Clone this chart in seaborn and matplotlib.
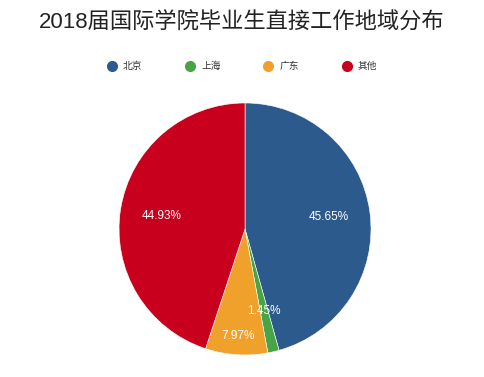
import numpy as np
import matplotlib
matplotlib.use('Agg')
import matplotlib.pyplot as plt
from matplotlib.lines import Line2D
import seaborn as sns

regions = ['北京', '上海', '广东', '其他']
shares = [45.65, 1.45, 7.97, 44.93]
colors = ['#2c5a8c', '#47a447', '#f0a12c', '#c8001e']
title = '2018届国际学院毕业生直接工作地域分布'

sns.set_theme(style='white')
plt.rcParams['font.family'] = ['Liberation Sans', 'Noto Sans CJK SC']

fig = plt.figure(figsize=(4.84, 3.77), dpi=100)
ax = fig.add_axes([0.2459, 0.0584, 0.5207, 0.6684])

wedges, texts, autotexts = ax.pie(
    shares, colors=colors, startangle=90, counterclock=False,
    autopct=lambda p: f'{p:.2f}%', pctdistance=0.67,
    wedgeprops=dict(edgecolor='white', linewidth=0.4),
    textprops=dict(color='white', fontsize=8.5))
ax.set_xlim(-1, 1)
ax.set_ylim(-1, 1)
ax.set_aspect('equal')

# push the small 广东 label outward so it clears the 上海 label
w = wedges[2]
mid = np.deg2rad((w.theta1 + w.theta2) / 2)
autotexts[2].set_position((0.85 * np.cos(mid), 0.85 * np.sin(mid)))

fig.text(0.5, 1 - 23 / 377, title, ha='center', va='center',
         fontsize=16, color='#222222')

handles = [Line2D([], [], marker='o', linestyle='none', markersize=7,
                  markerfacecolor=c, markeredgecolor=c) for c in colors]
fig.legend(handles, regions, loc='center', bbox_to_anchor=(0.5, 1 - 66 / 377),
           ncol=4, frameon=False, fontsize=7, handlelength=1,
           handletextpad=0.65, columnspacing=4.4, labelcolor='#333333')

fig.savefig('out.png', dpi=100, facecolor='white')
